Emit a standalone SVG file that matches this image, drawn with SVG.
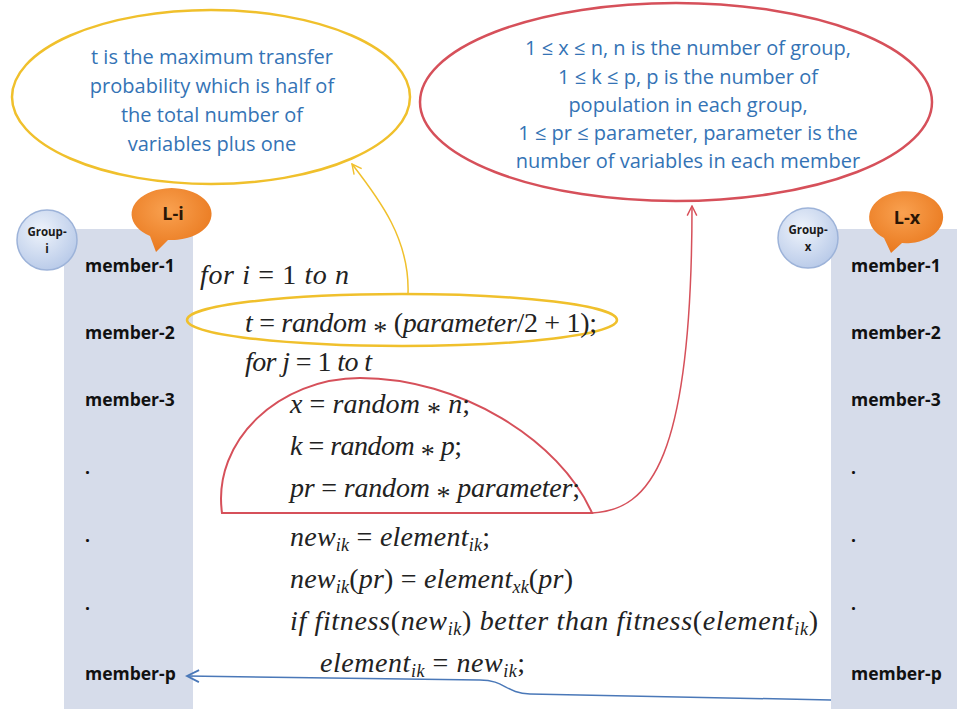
<svg xmlns="http://www.w3.org/2000/svg" width="957" height="709" viewBox="0 0 957 709">
<defs>
<radialGradient id="gb" cx="0.4" cy="0.35" r="0.7">
<stop offset="0" stop-color="#eef3fb"/><stop offset="1" stop-color="#b7c9e8"/>
</radialGradient>
<radialGradient id="go" cx="0.45" cy="0.35" r="0.7">
<stop offset="0" stop-color="#f9a150"/><stop offset="1" stop-color="#e8761b"/>
</radialGradient>
<marker id="ay" viewBox="0 0 10 10" refX="9" refY="5" markerWidth="8" markerHeight="8" orient="auto"><path d="M1,1 L9,5 L1,9" fill="none" stroke="#f2c12e" stroke-width="1.2"/></marker>
<marker id="ar" viewBox="0 0 10 10" refX="9" refY="5" markerWidth="8" markerHeight="8" orient="auto"><path d="M1,1 L9,5 L1,9" fill="none" stroke="#d9505a" stroke-width="1.2"/></marker>
<marker id="ab" viewBox="0 0 10 10" refX="9" refY="5" markerWidth="10" markerHeight="10" orient="auto"><path d="M1,1 L9,5 L1,9" fill="none" stroke="#4a78b8" stroke-width="1.2"/></marker>
</defs>
<style>
.col{fill:#d6dcea}
.mem{font-family:"Open Sans",sans-serif;font-weight:bold;font-size:17.5px;fill:#111}
.grp{font-family:"Open Sans",sans-serif;font-weight:bold;font-size:11.5px;fill:#1a1a1a;text-anchor:middle}
.lab{font-family:"Open Sans",sans-serif;font-weight:bold;font-size:18px;fill:#2a1606;text-anchor:middle}
.note{font-family:"Open Sans",sans-serif;font-size:20px;fill:#3473b5;text-anchor:middle}
.m{font-family:"Liberation Serif",serif;font-style:italic;font-size:28px;fill:#222}
.u{font-style:normal}
.s{font-size:18px}
</style>
<rect width="957" height="709" fill="#ffffff"/>
<g id="col-i"><rect class="col" x="64" y="229" width="129" height="480"/></g>
<g id="col-x"><rect class="col" x="831" y="229" width="126" height="480"/></g>
<g id="members-i">
<text class="mem" x="85" y="272">member-1</text>
<text class="mem" x="85" y="339">member-2</text>
<text class="mem" x="85" y="406">member-3</text>
<text class="mem" x="85" y="474">.</text>
<text class="mem" x="85" y="542">.</text>
<text class="mem" x="85" y="610">.</text>
<text class="mem" x="85" y="680">member-p</text>
</g>
<g id="members-x">
<text class="mem" x="851" y="272">member-1</text>
<text class="mem" x="851" y="339">member-2</text>
<text class="mem" x="851" y="406">member-3</text>
<text class="mem" x="851" y="474">.</text>
<text class="mem" x="851" y="542">.</text>
<text class="mem" x="851" y="610">.</text>
<text class="mem" x="851" y="680">member-p</text>
</g>
<g id="group-i"><circle cx="47" cy="240" r="30" fill="url(#gb)" stroke="#9db3d9" stroke-width="1.5"/><text class="grp" x="47" y="236">Group-</text><text class="grp" x="47" y="253">i</text></g>
<g id="group-x"><circle cx="808" cy="238" r="30" fill="url(#gb)" stroke="#9db3d9" stroke-width="1.5"/><text class="grp" x="808" y="234">Group-</text><text class="grp" x="808" y="251">x</text></g>
<g id="label-li"><path d="M150,236 A40,26 0 1 1 168,240 L156,252 Z" fill="url(#go)"/><text class="lab" x="173" y="220">L-i</text></g>
<g id="label-lx"><path d="M884,238 A37,26 0 1 1 902,243 L891,253 Z" fill="url(#go)"/><text class="lab" x="907" y="224">L-x</text></g>
<g id="note-t"><ellipse cx="211" cy="97" rx="199" ry="87" fill="#fff" stroke="#f0c02c" stroke-width="2.5"/>
<text class="note" x="212" y="64">t is the maximum transfer</text>
<text class="note" x="212" y="93">probability which is half of</text>
<text class="note" x="212" y="122">the total  number of</text>
<text class="note" x="212" y="151">variables plus one</text></g>
<g id="note-x"><ellipse cx="676" cy="102" rx="256" ry="99" fill="#fff" stroke="#d6505a" stroke-width="2.5"/>
<text class="note" x="688" y="55">1 ≤ x ≤ n, n is the number of group,</text>
<text class="note" x="688" y="84">1 ≤ k ≤ p, p is the number of</text>
<text class="note" x="688" y="112">population in each group,</text>
<text class="note" x="688" y="140">1 ≤ pr ≤ parameter,  parameter is the</text>
<text class="note" x="688" y="168">number of variables in each member</text></g>
<g id="hl-t"><ellipse cx="402" cy="320" rx="215" ry="26" fill="none" stroke="#f0c02c" stroke-width="2.5"/></g>
<g id="hl-xkpr"><path d="M222,513 C212,440 280,378 360,378 C460,378 560,440 592,513 Z" fill="none" stroke="#d6505a" stroke-width="2"/></g>
<g id="code">
<text class="m" x="200" y="284" textLength="149">for i <tspan class="u">= 1</tspan> to n</text>
<text class="m" x="245" y="332" textLength="352">t <tspan class="u">=</tspan> random <tspan class="u" dy="8">*</tspan><tspan class="u" dy="-8"> (</tspan>parameter<tspan class="u">/2 + 1);</tspan></text>
<text class="m" x="245" y="371" textLength="127">for j <tspan class="u">= 1</tspan> to t</text>
<text class="m" x="290" y="413" textLength="180">x <tspan class="u">=</tspan> random <tspan class="u" dy="8">*</tspan><tspan dy="-8"> n</tspan><tspan class="u">;</tspan></text>
<text class="m" x="290" y="455" textLength="172">k <tspan class="u">=</tspan> random <tspan class="u" dy="8">*</tspan><tspan dy="-8"> p</tspan><tspan class="u">;</tspan></text>
<text class="m" x="290" y="497" textLength="290">pr <tspan class="u">=</tspan> random <tspan class="u" dy="8">*</tspan><tspan dy="-8"> parameter</tspan><tspan class="u">;</tspan></text>
<text class="m" x="290" y="546" textLength="200">new<tspan class="s" dy="5">ik</tspan><tspan class="u" dy="-5"> =</tspan> element<tspan class="s" dy="5">ik</tspan><tspan class="u" dy="-5">;</tspan></text>
<text class="m" x="290" y="588" textLength="283">new<tspan class="s" dy="5">ik</tspan><tspan class="u" dy="-5">(</tspan>pr<tspan class="u">) =</tspan> element<tspan class="s" dy="5">xk</tspan><tspan class="u" dy="-5">(</tspan>pr<tspan class="u">)</tspan></text>
<text class="m" x="290" y="630" textLength="528">if fitness<tspan class="u">(</tspan>new<tspan class="s" dy="5">ik</tspan><tspan class="u" dy="-5">)</tspan> better than fitness<tspan class="u">(</tspan>element<tspan class="s" dy="5">ik</tspan><tspan class="u" dy="-5">)</tspan></text>
<text class="m" x="320" y="672" textLength="205">element<tspan class="s" dy="5">ik</tspan><tspan class="u" dy="-5"> =</tspan> new<tspan class="s" dy="5">ik</tspan><tspan class="u" dy="-5">;</tspan></text>
</g>
<g id="connectors" fill="none">
<path d="M408,294 C410,240 380,200 352,164" stroke="#f0c02c" stroke-width="1.5" marker-end="url(#ay)"/>
<path d="M592,513 C650,510 692,460 692,206" stroke="#d6505a" stroke-width="1.5" marker-end="url(#ar)"/>
<path d="M831,700 L530,694 C505,693 505,680 480,680 L187,676" stroke="#4a78b8" stroke-width="1.5" marker-end="url(#ab)"/>
</g>
</svg>
